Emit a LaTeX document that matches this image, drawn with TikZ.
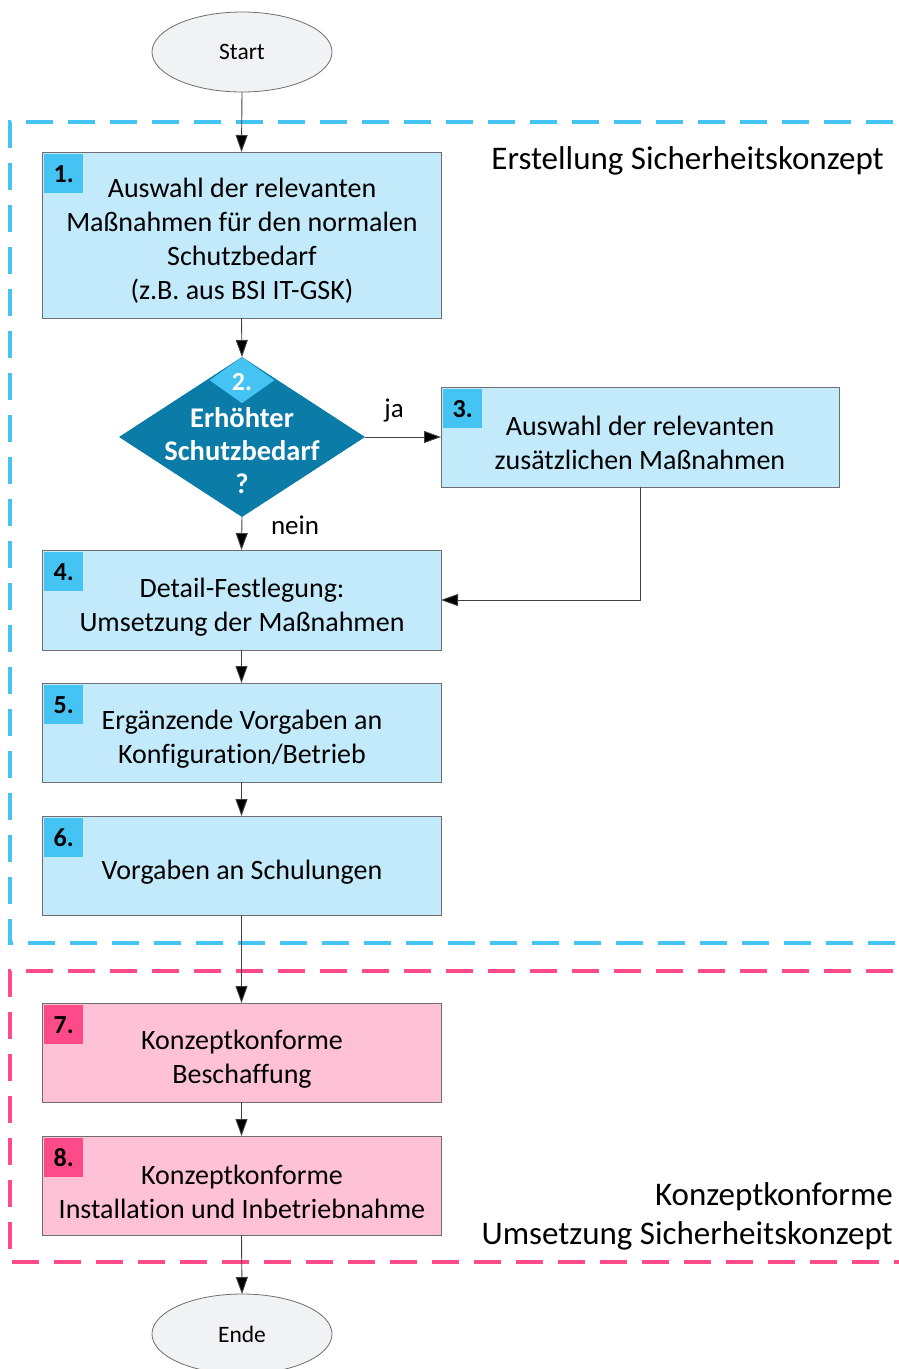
\documentclass[tikz,border=0pt]{standalone}
\usepackage{fontspec}
\setmainfont[Ligatures=NoCommon]{Carlito}
\usetikzlibrary{shapes.geometric,arrows.meta,positioning}

\definecolor{boxblue}{HTML}{C3EAFA}
\definecolor{badgeblue}{HTML}{45C3F3}
\definecolor{boxpink}{HTML}{FEC1D6}
\definecolor{badgepink}{HTML}{FD4A89}
\definecolor{decision}{HTML}{0B7BA8}
\definecolor{frameblue}{HTML}{45C3F3}
\definecolor{framepink}{HTML}{FF4B8A}
\definecolor{edgegray}{HTML}{6E6E6E}
\definecolor{termfill}{HTML}{F1F2F4}

\tikzset{
  stepbox/.style={rectangle, draw=edgegray, line width=0.9pt, fill=boxblue,
    minimum width=399pt, minimum height=99pt, inner sep=0pt, outer sep=0pt,
    anchor=north west, align=center},
  pinkbox/.style={stepbox, fill=boxpink},
  badge/.style={rectangle, fill=badgeblue, minimum width=39pt, minimum height=39pt,
    inner sep=0pt, anchor=north west, font=\bfseries\fontsize{26}{26}\selectfont},
  pinkbadge/.style={badge, fill=badgepink},
  boxtext/.style={align=center, inner sep=0pt, font=\fontsize{28}{34}\selectfont},
  terminal/.style={ellipse, draw=edgegray, line width=0.8pt, fill=termfill,
    minimum width=180pt, minimum height=80pt, inner sep=0pt, outer sep=0pt,
    font=\fontsize{23.5}{23.5}\selectfont},
  flow/.style={draw=black!75, line width=0.9pt, -{Triangle[length=17pt,width=12pt,fill=black]}},
  framebl/.style={draw=frameblue, line width=3.5pt, dash pattern=on 27pt off 15pt},
  framepk/.style={draw=framepink, line width=3.5pt, dash pattern=on 27pt off 15pt},
  grouplabel/.style={align=right, inner sep=0pt, font=\fontsize{33}{39}\selectfont},
  edgelabel/.style={inner sep=0pt, font=\fontsize{27}{27}\selectfont}
}

\begin{document}
\begin{tikzpicture}[x=1pt, y=-1pt]
\useasboundingbox (0,0) rectangle (899,1369);
\clip (0,0) rectangle (899,1369);

% group frames (open to the right)
\draw[framebl] (935,122) -- (10,122) -- (10,943) -- (935,943);
\draw[framepk] (935,971) -- (10,971) -- (10,1262) -- (935,1262);

\node[grouplabel, anchor=east] (g1) at (884,161) {Erstellung Sicherheitskonzept};
\node[grouplabel, anchor=south east] (g2) at (893,1250) {Konzeptkonforme\\Umsetzung Sicherheitskonzept};

% terminals
\node[terminal] (start) at (242,52) {Start};
\node[terminal] (ende) at (242,1334) {Ende};

% step 1
\node[stepbox, minimum height=166pt] (b1) at (42,152) {};
\node[boxtext] (t1) at (242,241) {Auswahl der relevanten\\Maßnahmen für den normalen\\Schutzbedarf\\(z.B. aus BSI IT-GSK)};
\node[badge] (n1) at (44,154) {1.};

% step 2: decision
\node[diamond, fill=decision, minimum width=246pt, minimum height=160pt, inner sep=0pt, outer sep=0pt] (d2) at (242,437) {};
\node[diamond, fill=badgeblue, minimum width=65pt, minimum height=46pt, inner sep=0pt, anchor=north] (n2) at (d2.north) {};
\node[text=white, font=\bfseries\fontsize{26}{26}\selectfont, inner sep=0pt] (n2t) at (242,382) {2.};
\node[text=white, align=center, inner sep=0pt, font=\bfseries\fontsize{28.5}{33}\selectfont] (t2) at (242,451) {Erhöhter\\Schutzbedarf\\?};

% step 3
\node[stepbox, minimum width=398pt, minimum height=100pt] (b3) at (441,387) {};
\node[boxtext] (t3) at (640,443) {Auswahl der relevanten\\zusätzlichen Maßnahmen};
\node[badge] (n3) at (443,389) {3.};

% step 4
\node[stepbox, minimum height=100pt] (b4) at (42,550) {};
\node[boxtext] (t4) at (242,607) {Detail-Festlegung:\\Umsetzung der Maßnahmen};
\node[badge] (n4) at (44,552) {4.};

% step 5
\node[stepbox] (b5) at (42,683) {};
\node[boxtext] (t5) at (242,739) {Ergänzende Vorgaben an\\Konfiguration/Betrieb};
\node[badge] (n5) at (44,685) {5.};

% step 6
\node[stepbox] (b6) at (42,816) {};
\node[boxtext] (t6) at (242,872) {Vorgaben an Schulungen};
\node[badge] (n6) at (44,818) {6.};

% step 7
\node[pinkbox] (b7) at (42,1003) {};
\node[boxtext] (t7) at (242,1059) {Konzeptkonforme\\Beschaffung};
\node[pinkbadge] (n7) at (44,1005) {7.};

% step 8
\node[pinkbox] (b8) at (42,1136) {};
\node[boxtext] (t8) at (242,1192) {Konzeptkonforme\\Installation und Inbetriebnahme};
\node[pinkbadge] (n8) at (44,1138) {8.};

% connectors
\draw[flow] (start.south) -- (b1.north);
\draw[flow] (b1.south) -- (d2.north);
\draw[flow] (d2.east) -- (b3.west);
\draw[flow] (d2.south) -- (b4.north);
\draw[flow] (b3.south) |- (b4.east);
\draw[flow] (b4.south) -- (b5.north);
\draw[flow] (b5.south) -- (b6.north);
\draw[flow] (b6.south) -- (b7.north);
\draw[flow] (b7.south) -- (b8.north);
\draw[flow] (b8.south) -- (ende.north);

\node[edgelabel] (ja) at (394,411) {ja};
\node[edgelabel] (nein) at (295,525) {nein};
\end{tikzpicture}
\end{document}
